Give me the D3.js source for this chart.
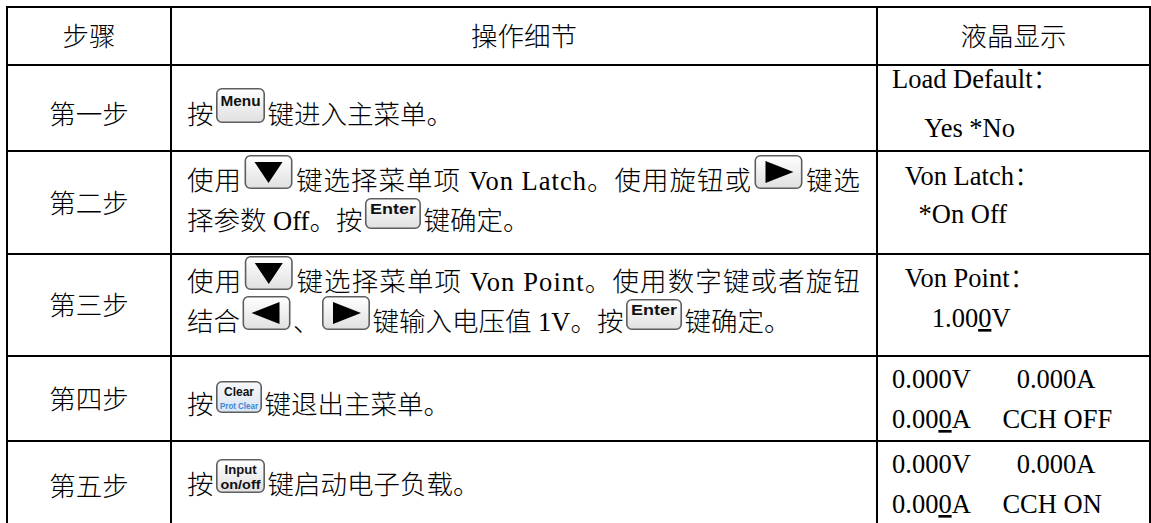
<!DOCTYPE html>
<html><head><meta charset="utf-8">
<script src="https://cdn.jsdelivr.net/npm/d3@7"></script>
<style>
html,body{margin:0;padding:0;background:#fff;}
svg{display:block;}
.t{font-family:'Liberation Serif','Noto Sans CJK SC',serif;font-size:26.5px;font-weight:300;fill:#000;}
</style></head><body>
<svg id="c" width="1151" height="523"></svg>
<script>
// ---------------- data ----------------
const headers = ["步骤", "操作细节", "液晶显示"];
const steps = ["第一步", "第二步", "第三步", "第四步", "第五步"];
// operation text: rows -> lines -> tokens (string = text, {key} = key icon)
const ops = [
  [["按", {key: "menu"}, "键进入主菜单。"]],
  [["使用", {key: "down"}, "键选择菜单项 Von Latch。使用旋钮或", {key: "right"}, "键选"],
   ["择参数 Off。按", {key: "enter"}, "键确定。"]],
  [["使用", {key: "down"}, "键选择菜单项 Von Point。使用数字键或者旋钮"],
   ["结合", {key: "left"}, "、", {key: "right"}, "键输入电压值 1V。按", {key: "enter"}, "键确定。"]],
  [["按", {key: "clear"}, "键退出主菜单。"]],
  [["按", {key: "input"}, "键启动电子负载。"]]
];
// LCD display: rows -> lines -> segments ({u} = underlined cursor digit)
const lcd = [
  [["Load Default："], ["     Yes *No"]],
  [["  Von Latch："], ["    *On Off"]],
  [["  Von Point："], ["      1.00", {u: "0"}, "V"]],
  [["0.000V       0.000A"], ["0.00", {u: "0"}, "A     CCH OFF"]],
  [["0.000V       0.000A"], ["0.00", {u: "0"}, "A     CCH ON"]]
];

// ---------------- layout ----------------
const colX = [7, 171, 877, 1150];
const rowH = [58, 86, 103, 102, 85, 88];
const rowY = [7, ...d3.cumsum(rowH).map(v => v + 7)];
const stepDy = [16, 10, 10, 10, 11];          // baseline below row centre
const opTop = [59, 39, 37, 58, 53];            // first baseline below row top
const opPitch = 40;
const lcdTop = [23, 34, 33, 32, 32];
const lcdPitch = [49, 38, 40, 40, 40];
const padL = 16, padR = 17, lcdPad = 15, keyGap = 2.5;

const keySpec = {
  menu:  {w: 49, h: 35, labels: [{t: "Menu", fy: 0.5, s: 15, tl: 40}]},
  enter: {w: 56, h: 31, labels: [{t: "Enter", fy: 0.52, s: 15, tl: 46}]},
  down:  {w: 48, h: 34, tri: "down"},
  right: {w: 48, h: 34, tri: "right"},
  left:  {w: 48, h: 34, tri: "left"},
  clear: {w: 46, h: 32, blue: true, labels: [{t: "Clear", fy: 0.46, s: 12.5, tl: 30}, {t: "Prot Clear", fy: 0.86, s: 8.5, c: "#3d86d8", tl: 38}]},
  input: {w: 49, h: 34, labels: [{t: "Input", fy: 0.45, s: 13, tl: 32}, {t: "on/off", fy: 0.87, s: 13, tl: 40}]}
};

const svg = d3.select("#c");
const defs = svg.append("defs");
const g1 = defs.append("linearGradient").attr("id", "kg").attr("x1", 0).attr("y1", 0).attr("x2", 0).attr("y2", 1);
g1.append("stop").attr("offset", "0").attr("stop-color", "#ffffff");
g1.append("stop").attr("offset", "1").attr("stop-color", "#e0e0e0");
const g2 = defs.append("linearGradient").attr("id", "kb").attr("x1", 0).attr("y1", 0).attr("x2", 0).attr("y2", 1);
g2.append("stop").attr("offset", "0").attr("stop-color", "#f6f8fb");
g2.append("stop").attr("offset", "1").attr("stop-color", "#d8e5f3");

const y = i => rowY[i];
const cy = i => (rowY[i] + rowY[i + 1]) / 2;

// grid
const grid = svg.append("g").attr("stroke", "#000").attr("stroke-width", 2);
grid.selectAll("line.h").data(rowY.slice(0, -1)).join("line")
  .attr("x1", colX[0] - 1).attr("x2", colX[3] + 1).attr("y1", d => d).attr("y2", d => d);
grid.selectAll("line.v").data(colX).join("line")
  .attr("x1", d => d).attr("x2", d => d).attr("y1", rowY[0]).attr("y2", rowY[rowY.length - 1]);

// headers
svg.selectAll("text.hd").data(headers).join("text")
  .attr("class", "t hd").attr("text-anchor", "middle")
  .attr("x", (d, i) => (colX[i] + colX[i + 1]) / 2).attr("y", cy(0) + 10).text(d => d);

// steps
svg.selectAll("text.st").data(steps).join("text")
  .attr("class", "t st").attr("text-anchor", "middle")
  .attr("x", (colX[0] + colX[1]) / 2).attr("y", (d, i) => cy(i + 1) + stepDy[i]).text(d => d);

function drawKey(g, name, x, base) {
  const k = keySpec[name];
  const top = base - 1 - k.h;
  const kg = g.append("g").attr("transform", `translate(${x},${top})`);
  kg.append("rect").attr("x", 0.8).attr("y", 0.8).attr("width", k.w - 1.6).attr("height", k.h - 1.6)
    .attr("rx", 5).attr("fill", k.blue ? "url(#kb)" : "url(#kg)").attr("stroke", "#5e5e5e").attr("stroke-width", 1.6);
  if (k.tri) {
    const cx = k.w / 2, cyy = k.h / 2;
    let p;
    if (k.tri === "down") p = [[cx - 14, cyy - 10], [cx + 14, cyy - 10], [cx, cyy + 11]];
    else if (k.tri === "right") p = [[cx - 13, cyy - 11], [cx - 13, cyy + 11], [cx + 15, cyy]];
    else p = [[cx + 13, cyy - 11], [cx + 13, cyy + 11], [cx - 15, cyy]];
    kg.append("path").attr("d", d3.line()(p) + "Z").attr("fill", "#000");
  }
  (k.labels || []).forEach(l => {
    kg.append("text").attr("x", k.w / 2).attr("y", k.h * l.fy).attr("text-anchor", "middle")
      .attr("font-family", "'Liberation Sans',Arial,sans-serif")
      .attr("font-weight", "bold").attr("font-size", l.s).attr("fill", l.c || "#111")
      .attr("textLength", l.tl).attr("lengthAdjust", "spacingAndGlyphs")
      .text(l.t);
  });
}

// operations
const opG = svg.append("g");
const measure = opG.append("text").attr("class", "t").attr("x", -999).attr("y", -999);
function tw(s) { measure.text(s); return measure.node().getComputedTextLength(); }

ops.forEach((lines, r) => {
  lines.forEach((tokens, li) => {
    const base = y(r + 1) + opTop[r] + li * opPitch;
    const justify = li < lines.length - 1;
    const left = colX[1] + padL, right = colX[2] - padR;
    const info = tokens.map(t => typeof t === "string"
      ? {s: t, w: tw(t), n: Array.from(t).length}
      : {key: t.key, w: keySpec[t.key].w + 2 * keyGap, n: 1});
    const natural = d3.sum(info, d => d.w);
    const nGaps = d3.sum(info, d => d.n) - 1;
    const ls = justify ? (right - left - natural) / nGaps : 0;
    let x = left;
    info.forEach(d => {
      if (d.key) {
        drawKey(opG, d.key, x + keyGap, base);
        x += d.w + ls;
      } else {
        opG.append("text").attr("class", "t").attr("x", x).attr("y", base)
          .style("letter-spacing", ls + "px").style("white-space", "pre").text(d.s);
        x += d.w + ls * d.n;
      }
    });
  });
});
measure.remove();

// LCD
const lcdG = svg.append("g");
lcd.forEach((lines, r) => {
  lines.forEach((segs, li) => {
    const t = lcdG.append("text").attr("class", "t").style("white-space", "pre")
      .attr("x", colX[2] + lcdPad).attr("y", y(r + 1) + lcdTop[r] + li * lcdPitch[r]);
    segs.forEach(s => {
      if (typeof s === "string") t.append("tspan").text(s);
      else t.append("tspan").style("text-decoration", "underline").text(s.u);
    });
  });
});
</script>
</body></html>
